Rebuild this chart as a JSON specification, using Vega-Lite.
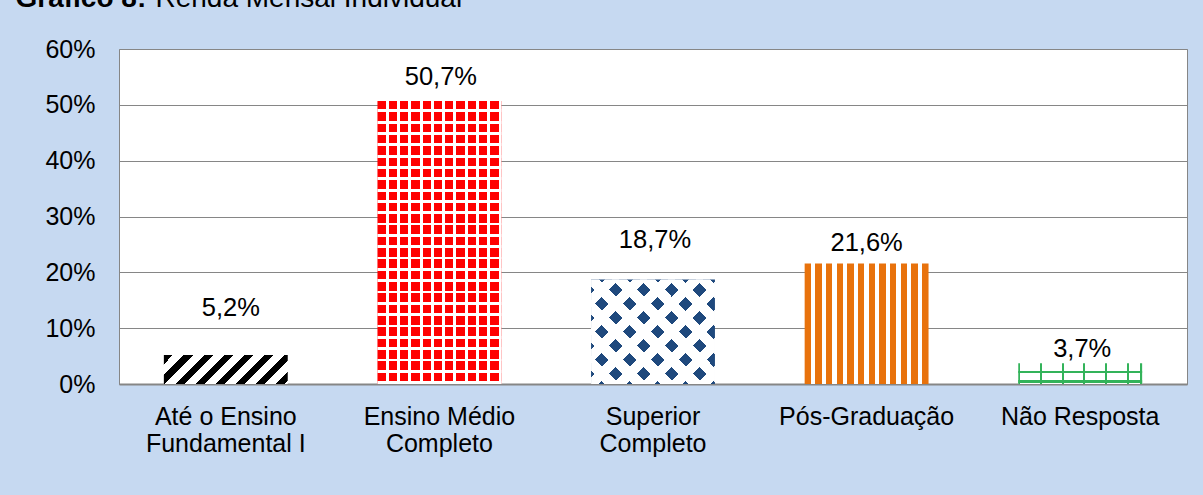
{
  "$schema": "https://vega.github.io/schema/vega-lite/v6.json",
  "width": 1068,
  "height": 335,
  "autosize": {"type": "none"},
  "padding": {"left": 119, "top": 49, "right": 16, "bottom": 111},
  "background": "#c6d9f1",
  "config": {
    "locale": {"number": {"decimal": ",", "thousands": ".", "grouping": [3], "currency": ["R$", ""]}},
    "view": {"fill": "#ffffff", "stroke": "#868686", "strokeWidth": 1},
    "font": "Liberation Sans"
  },
  "data": {
    "values": [
      {"escolaridade": "Até o Ensino Fundamental I", "pct": 0.052},
      {"escolaridade": "Ensino Médio Completo", "pct": 0.507},
      {"escolaridade": "Superior Completo", "pct": 0.187},
      {"escolaridade": "Pós-Graduação", "pct": 0.216},
      {"escolaridade": "Não Resposta", "pct": 0.037}
    ]
  },
  "encoding": {
    "x": {
      "field": "escolaridade",
      "type": "nominal",
      "sort": null,
      "scale": {
        "domain": ["Até o Ensino Fundamental I", "Ensino Médio Completo", "Superior Completo", "Pós-Graduação", "Não Resposta"],
        "paddingInner": 0.42,
        "paddingOuter": 0.21
      },
      "axis": {
        "title": "Gráfico 8:",
        "titleX": -104,
        "titleY": -377.5,
        "titleAlign": "left",
        "titleBaseline": "alphabetic",
        "titleFontSize": 28,
        "titleFontWeight": "bold",
        "titleColor": "#000000",
        "labelAngle": 0,
        "labelFontSize": 25,
        "labelColor": "#000000",
        "labelPadding": 20,
        "labelLineHeight": 27,
        "labelBaseline": "top",
        "labelLimit": 0,
        "labelExpr": "datum.value == 'Até o Ensino Fundamental I' ? ['Até o Ensino', 'Fundamental I'] : datum.value == 'Ensino Médio Completo' ? ['Ensino Médio', 'Completo'] : datum.value == 'Superior Completo' ? ['Superior', 'Completo'] : datum.label",
        "ticks": false,
        "tickSize": 0,
        "domain": true,
        "domainColor": "#868686",
        "domainWidth": 2,
        "grid": false
      }
    },
    "y": {
      "field": "pct",
      "type": "quantitative",
      "scale": {"domain": [0, 0.6], "nice": false},
      "axis": {
        "title": "Renda Mensal Individual",
        "titleAngle": 0,
        "titleX": 36,
        "titleY": -42.5,
        "titleAlign": "left",
        "titleBaseline": "alphabetic",
        "titleFontSize": 28,
        "titleFontWeight": "normal",
        "titleColor": "#000000",
        "format": ".0%",
        "values": [0, 0.1, 0.2, 0.3, 0.4, 0.5, 0.6],
        "grid": true,
        "gridColor": "#868686",
        "gridWidth": 1,
        "domain": false,
        "ticks": false,
        "tickSize": 0,
        "labelPadding": 24,
        "labelFontSize": 25,
        "labelColor": "#000000"
      }
    }
  },
  "layer": [
    {
      "transform": [{"filter": "datum.escolaridade == 'Até o Ensino Fundamental I'"}],
      "layer": [
        {
          "mark": {
            "type": "bar",
            "fill": {
              "gradient": "linear", "x1": 0, "y1": 0, "x2": 1.17, "y2": 0.274,
              "stops": [
                {"offset": 0, "color": "#000000"}, {"offset": 0.06, "color": "#000000"}, {"offset": 0.06, "color": "#ffffff"}, {"offset": 0.1316, "color": "#ffffff"},
                {"offset": 0.1316, "color": "#000000"}, {"offset": 0.1916, "color": "#000000"}, {"offset": 0.1916, "color": "#ffffff"}, {"offset": 0.2632, "color": "#ffffff"},
                {"offset": 0.2632, "color": "#000000"}, {"offset": 0.3232, "color": "#000000"}, {"offset": 0.3232, "color": "#ffffff"}, {"offset": 0.3948, "color": "#ffffff"},
                {"offset": 0.3948, "color": "#000000"}, {"offset": 0.4548, "color": "#000000"}, {"offset": 0.4548, "color": "#ffffff"}, {"offset": 0.5264, "color": "#ffffff"},
                {"offset": 0.5264, "color": "#000000"}, {"offset": 0.5864, "color": "#000000"}, {"offset": 0.5864, "color": "#ffffff"}, {"offset": 0.658, "color": "#ffffff"},
                {"offset": 0.658, "color": "#000000"}, {"offset": 0.718, "color": "#000000"}, {"offset": 0.718, "color": "#ffffff"}, {"offset": 0.7896, "color": "#ffffff"},
                {"offset": 0.7896, "color": "#000000"}, {"offset": 0.8496, "color": "#000000"}, {"offset": 0.8496, "color": "#ffffff"}, {"offset": 0.9212, "color": "#ffffff"},
                {"offset": 0.9212, "color": "#000000"}, {"offset": 0.9812, "color": "#000000"}, {"offset": 0.9812, "color": "#ffffff"}, {"offset": 1, "color": "#ffffff"}
              ]
            }
          }
        },
        {
          "mark": {"type": "text", "baseline": "alphabetic", "dy": -39, "dx": 5, "fontSize": 25.5, "fill": "#000000"},
          "encoding": {"text": {"field": "pct", "type": "quantitative", "format": ".1%"}}
        }
      ]
    },
    {
      "transform": [{"filter": "datum.escolaridade == 'Ensino Médio Completo'"}],
      "layer": [
        {"mark": {"type": "bar", "fill": "#ff0000"}},
        {
          "mark": {
            "type": "bar",
            "fill": {
              "gradient": "linear", "x1": 0, "y1": 0, "x2": 1, "y2": 0,
              "stops": [
                {"offset": 0, "color": "rgba(255,255,255,0)"}, {"offset": 0.0682, "color": "rgba(255,255,255,0)"}, {"offset": 0.0682, "color": "#ffffff"}, {"offset": 0.0909, "color": "#ffffff"},
                {"offset": 0.0909, "color": "rgba(255,255,255,0)"}, {"offset": 0.1591, "color": "rgba(255,255,255,0)"}, {"offset": 0.1591, "color": "#ffffff"}, {"offset": 0.1818, "color": "#ffffff"},
                {"offset": 0.1818, "color": "rgba(255,255,255,0)"}, {"offset": 0.25, "color": "rgba(255,255,255,0)"}, {"offset": 0.25, "color": "#ffffff"}, {"offset": 0.2727, "color": "#ffffff"},
                {"offset": 0.2727, "color": "rgba(255,255,255,0)"}, {"offset": 0.3409, "color": "rgba(255,255,255,0)"}, {"offset": 0.3409, "color": "#ffffff"}, {"offset": 0.3636, "color": "#ffffff"},
                {"offset": 0.3636, "color": "rgba(255,255,255,0)"}, {"offset": 0.4318, "color": "rgba(255,255,255,0)"}, {"offset": 0.4318, "color": "#ffffff"}, {"offset": 0.4545, "color": "#ffffff"},
                {"offset": 0.4545, "color": "rgba(255,255,255,0)"}, {"offset": 0.5227, "color": "rgba(255,255,255,0)"}, {"offset": 0.5227, "color": "#ffffff"}, {"offset": 0.5455, "color": "#ffffff"},
                {"offset": 0.5455, "color": "rgba(255,255,255,0)"}, {"offset": 0.6136, "color": "rgba(255,255,255,0)"}, {"offset": 0.6136, "color": "#ffffff"}, {"offset": 0.6364, "color": "#ffffff"},
                {"offset": 0.6364, "color": "rgba(255,255,255,0)"}, {"offset": 0.7045, "color": "rgba(255,255,255,0)"}, {"offset": 0.7045, "color": "#ffffff"}, {"offset": 0.7273, "color": "#ffffff"},
                {"offset": 0.7273, "color": "rgba(255,255,255,0)"}, {"offset": 0.7955, "color": "rgba(255,255,255,0)"}, {"offset": 0.7955, "color": "#ffffff"}, {"offset": 0.8182, "color": "#ffffff"},
                {"offset": 0.8182, "color": "rgba(255,255,255,0)"}, {"offset": 0.8864, "color": "rgba(255,255,255,0)"}, {"offset": 0.8864, "color": "#ffffff"}, {"offset": 0.9091, "color": "#ffffff"},
                {"offset": 0.9091, "color": "rgba(255,255,255,0)"}, {"offset": 0.9773, "color": "rgba(255,255,255,0)"}, {"offset": 0.9773, "color": "#ffffff"}, {"offset": 1, "color": "#ffffff"}
              ]
            }
          }
        },
        {
          "mark": {
            "type": "bar",
            "fill": {
              "gradient": "linear", "x1": 0, "y1": 0, "x2": 0, "y2": 1,
              "stops": [
                {"offset": 0, "color": "rgba(255,255,255,0)"}, {"offset": 0.03, "color": "rgba(255,255,255,0)"}, {"offset": 0.03, "color": "#ffffff"}, {"offset": 0.04, "color": "#ffffff"},
                {"offset": 0.04, "color": "rgba(255,255,255,0)"}, {"offset": 0.07, "color": "rgba(255,255,255,0)"}, {"offset": 0.07, "color": "#ffffff"}, {"offset": 0.08, "color": "#ffffff"},
                {"offset": 0.08, "color": "rgba(255,255,255,0)"}, {"offset": 0.11, "color": "rgba(255,255,255,0)"}, {"offset": 0.11, "color": "#ffffff"}, {"offset": 0.12, "color": "#ffffff"},
                {"offset": 0.12, "color": "rgba(255,255,255,0)"}, {"offset": 0.15, "color": "rgba(255,255,255,0)"}, {"offset": 0.15, "color": "#ffffff"}, {"offset": 0.16, "color": "#ffffff"},
                {"offset": 0.16, "color": "rgba(255,255,255,0)"}, {"offset": 0.19, "color": "rgba(255,255,255,0)"}, {"offset": 0.19, "color": "#ffffff"}, {"offset": 0.2, "color": "#ffffff"},
                {"offset": 0.2, "color": "rgba(255,255,255,0)"}, {"offset": 0.23, "color": "rgba(255,255,255,0)"}, {"offset": 0.23, "color": "#ffffff"}, {"offset": 0.24, "color": "#ffffff"},
                {"offset": 0.24, "color": "rgba(255,255,255,0)"}, {"offset": 0.27, "color": "rgba(255,255,255,0)"}, {"offset": 0.27, "color": "#ffffff"}, {"offset": 0.28, "color": "#ffffff"},
                {"offset": 0.28, "color": "rgba(255,255,255,0)"}, {"offset": 0.31, "color": "rgba(255,255,255,0)"}, {"offset": 0.31, "color": "#ffffff"}, {"offset": 0.32, "color": "#ffffff"},
                {"offset": 0.32, "color": "rgba(255,255,255,0)"}, {"offset": 0.35, "color": "rgba(255,255,255,0)"}, {"offset": 0.35, "color": "#ffffff"}, {"offset": 0.36, "color": "#ffffff"},
                {"offset": 0.36, "color": "rgba(255,255,255,0)"}, {"offset": 0.39, "color": "rgba(255,255,255,0)"}, {"offset": 0.39, "color": "#ffffff"}, {"offset": 0.4, "color": "#ffffff"},
                {"offset": 0.4, "color": "rgba(255,255,255,0)"}, {"offset": 0.43, "color": "rgba(255,255,255,0)"}, {"offset": 0.43, "color": "#ffffff"}, {"offset": 0.44, "color": "#ffffff"},
                {"offset": 0.44, "color": "rgba(255,255,255,0)"}, {"offset": 0.47, "color": "rgba(255,255,255,0)"}, {"offset": 0.47, "color": "#ffffff"}, {"offset": 0.48, "color": "#ffffff"},
                {"offset": 0.48, "color": "rgba(255,255,255,0)"}, {"offset": 0.51, "color": "rgba(255,255,255,0)"}, {"offset": 0.51, "color": "#ffffff"}, {"offset": 0.52, "color": "#ffffff"},
                {"offset": 0.52, "color": "rgba(255,255,255,0)"}, {"offset": 0.55, "color": "rgba(255,255,255,0)"}, {"offset": 0.55, "color": "#ffffff"}, {"offset": 0.56, "color": "#ffffff"},
                {"offset": 0.56, "color": "rgba(255,255,255,0)"}, {"offset": 0.59, "color": "rgba(255,255,255,0)"}, {"offset": 0.59, "color": "#ffffff"}, {"offset": 0.6, "color": "#ffffff"},
                {"offset": 0.6, "color": "rgba(255,255,255,0)"}, {"offset": 0.63, "color": "rgba(255,255,255,0)"}, {"offset": 0.63, "color": "#ffffff"}, {"offset": 0.64, "color": "#ffffff"},
                {"offset": 0.64, "color": "rgba(255,255,255,0)"}, {"offset": 0.67, "color": "rgba(255,255,255,0)"}, {"offset": 0.67, "color": "#ffffff"}, {"offset": 0.68, "color": "#ffffff"},
                {"offset": 0.68, "color": "rgba(255,255,255,0)"}, {"offset": 0.71, "color": "rgba(255,255,255,0)"}, {"offset": 0.71, "color": "#ffffff"}, {"offset": 0.72, "color": "#ffffff"},
                {"offset": 0.72, "color": "rgba(255,255,255,0)"}, {"offset": 0.75, "color": "rgba(255,255,255,0)"}, {"offset": 0.75, "color": "#ffffff"}, {"offset": 0.76, "color": "#ffffff"},
                {"offset": 0.76, "color": "rgba(255,255,255,0)"}, {"offset": 0.79, "color": "rgba(255,255,255,0)"}, {"offset": 0.79, "color": "#ffffff"}, {"offset": 0.8, "color": "#ffffff"},
                {"offset": 0.8, "color": "rgba(255,255,255,0)"}, {"offset": 0.83, "color": "rgba(255,255,255,0)"}, {"offset": 0.83, "color": "#ffffff"}, {"offset": 0.84, "color": "#ffffff"},
                {"offset": 0.84, "color": "rgba(255,255,255,0)"}, {"offset": 0.87, "color": "rgba(255,255,255,0)"}, {"offset": 0.87, "color": "#ffffff"}, {"offset": 0.88, "color": "#ffffff"},
                {"offset": 0.88, "color": "rgba(255,255,255,0)"}, {"offset": 0.91, "color": "rgba(255,255,255,0)"}, {"offset": 0.91, "color": "#ffffff"}, {"offset": 0.92, "color": "#ffffff"},
                {"offset": 0.92, "color": "rgba(255,255,255,0)"}, {"offset": 0.95, "color": "rgba(255,255,255,0)"}, {"offset": 0.95, "color": "#ffffff"}, {"offset": 0.96, "color": "#ffffff"},
                {"offset": 0.96, "color": "rgba(255,255,255,0)"}, {"offset": 0.99, "color": "rgba(255,255,255,0)"}, {"offset": 0.99, "color": "#ffffff"}, {"offset": 1, "color": "#ffffff"}
              ]
            }
          }
        },
        {
          "mark": {"type": "text", "baseline": "alphabetic", "dy": -16, "dx": 1.5, "fontSize": 25.5, "fill": "#000000"},
          "encoding": {"text": {"field": "pct", "type": "quantitative", "format": ".1%"}}
        }
      ]
    },
    {
      "transform": [{"filter": "datum.escolaridade == 'Superior Completo'"}],
      "layer": [
        {"mark": {"type": "bar", "fill": "#1f497d"}},
        {
          "mark": {
            "type": "bar",
            "fill": {
              "gradient": "linear", "x1": 0, "y1": 0, "x2": 1.0776, "y2": 0.908,
              "stops": [
                {"offset": 0, "color": "rgba(255,255,255,0)"}, {"offset": 0.0588, "color": "rgba(255,255,255,0)"}, {"offset": 0.0588, "color": "#ffffff"}, {"offset": 0.1226, "color": "#ffffff"},
                {"offset": 0.1226, "color": "rgba(255,255,255,0)"}, {"offset": 0.1814, "color": "rgba(255,255,255,0)"}, {"offset": 0.1814, "color": "#ffffff"}, {"offset": 0.2452, "color": "#ffffff"},
                {"offset": 0.2452, "color": "rgba(255,255,255,0)"}, {"offset": 0.304, "color": "rgba(255,255,255,0)"}, {"offset": 0.304, "color": "#ffffff"}, {"offset": 0.3678, "color": "#ffffff"},
                {"offset": 0.3678, "color": "rgba(255,255,255,0)"}, {"offset": 0.4266, "color": "rgba(255,255,255,0)"}, {"offset": 0.4266, "color": "#ffffff"}, {"offset": 0.4904, "color": "#ffffff"},
                {"offset": 0.4904, "color": "rgba(255,255,255,0)"}, {"offset": 0.5492, "color": "rgba(255,255,255,0)"}, {"offset": 0.5492, "color": "#ffffff"}, {"offset": 0.613, "color": "#ffffff"},
                {"offset": 0.613, "color": "rgba(255,255,255,0)"}, {"offset": 0.6718, "color": "rgba(255,255,255,0)"}, {"offset": 0.6718, "color": "#ffffff"}, {"offset": 0.7356, "color": "#ffffff"},
                {"offset": 0.7356, "color": "rgba(255,255,255,0)"}, {"offset": 0.7944, "color": "rgba(255,255,255,0)"}, {"offset": 0.7944, "color": "#ffffff"}, {"offset": 0.8582, "color": "#ffffff"},
                {"offset": 0.8582, "color": "rgba(255,255,255,0)"}, {"offset": 0.917, "color": "rgba(255,255,255,0)"}, {"offset": 0.917, "color": "#ffffff"}, {"offset": 0.9808, "color": "#ffffff"},
                {"offset": 0.9808, "color": "rgba(255,255,255,0)"}, {"offset": 1, "color": "rgba(255,255,255,0)"}
              ]
            }
          }
        },
        {
          "mark": {
            "type": "bar",
            "fill": {
              "gradient": "linear", "x1": 0, "y1": 1, "x2": 1.0776, "y2": 0.092,
              "stops": [
                {"offset": 0, "color": "rgba(255,255,255,0)"}, {"offset": 0.0588, "color": "rgba(255,255,255,0)"}, {"offset": 0.0588, "color": "#ffffff"}, {"offset": 0.1226, "color": "#ffffff"},
                {"offset": 0.1226, "color": "rgba(255,255,255,0)"}, {"offset": 0.1814, "color": "rgba(255,255,255,0)"}, {"offset": 0.1814, "color": "#ffffff"}, {"offset": 0.2452, "color": "#ffffff"},
                {"offset": 0.2452, "color": "rgba(255,255,255,0)"}, {"offset": 0.304, "color": "rgba(255,255,255,0)"}, {"offset": 0.304, "color": "#ffffff"}, {"offset": 0.3678, "color": "#ffffff"},
                {"offset": 0.3678, "color": "rgba(255,255,255,0)"}, {"offset": 0.4266, "color": "rgba(255,255,255,0)"}, {"offset": 0.4266, "color": "#ffffff"}, {"offset": 0.4904, "color": "#ffffff"},
                {"offset": 0.4904, "color": "rgba(255,255,255,0)"}, {"offset": 0.5492, "color": "rgba(255,255,255,0)"}, {"offset": 0.5492, "color": "#ffffff"}, {"offset": 0.613, "color": "#ffffff"},
                {"offset": 0.613, "color": "rgba(255,255,255,0)"}, {"offset": 0.6718, "color": "rgba(255,255,255,0)"}, {"offset": 0.6718, "color": "#ffffff"}, {"offset": 0.7356, "color": "#ffffff"},
                {"offset": 0.7356, "color": "rgba(255,255,255,0)"}, {"offset": 0.7944, "color": "rgba(255,255,255,0)"}, {"offset": 0.7944, "color": "#ffffff"}, {"offset": 0.8582, "color": "#ffffff"},
                {"offset": 0.8582, "color": "rgba(255,255,255,0)"}, {"offset": 0.917, "color": "rgba(255,255,255,0)"}, {"offset": 0.917, "color": "#ffffff"}, {"offset": 0.9808, "color": "#ffffff"},
                {"offset": 0.9808, "color": "rgba(255,255,255,0)"}, {"offset": 1, "color": "rgba(255,255,255,0)"}
              ]
            }
          }
        },
        {
          "mark": {"type": "text", "baseline": "alphabetic", "dy": -32, "dx": 2, "fontSize": 25.5, "fill": "#000000"},
          "encoding": {"text": {"field": "pct", "type": "quantitative", "format": ".1%"}}
        }
      ]
    },
    {
      "transform": [{"filter": "datum.escolaridade == 'Pós-Graduação'"}],
      "layer": [
        {
          "mark": {
            "type": "bar",
            "fill": {
              "gradient": "linear", "x1": 0, "y1": 0, "x2": 1, "y2": 0,
              "stops": [
                {"offset": 0, "color": "#e8720c"}, {"offset": 0.05, "color": "#e8720c"}, {"offset": 0.05, "color": "#ffffff"}, {"offset": 0.0862, "color": "#ffffff"},
                {"offset": 0.0862, "color": "#e8720c"}, {"offset": 0.1362, "color": "#e8720c"}, {"offset": 0.1362, "color": "#ffffff"}, {"offset": 0.1724, "color": "#ffffff"},
                {"offset": 0.1724, "color": "#e8720c"}, {"offset": 0.2224, "color": "#e8720c"}, {"offset": 0.2224, "color": "#ffffff"}, {"offset": 0.2586, "color": "#ffffff"},
                {"offset": 0.2586, "color": "#e8720c"}, {"offset": 0.3086, "color": "#e8720c"}, {"offset": 0.3086, "color": "#ffffff"}, {"offset": 0.3448, "color": "#ffffff"},
                {"offset": 0.3448, "color": "#e8720c"}, {"offset": 0.3948, "color": "#e8720c"}, {"offset": 0.3948, "color": "#ffffff"}, {"offset": 0.431, "color": "#ffffff"},
                {"offset": 0.431, "color": "#e8720c"}, {"offset": 0.481, "color": "#e8720c"}, {"offset": 0.481, "color": "#ffffff"}, {"offset": 0.5172, "color": "#ffffff"},
                {"offset": 0.5172, "color": "#e8720c"}, {"offset": 0.5672, "color": "#e8720c"}, {"offset": 0.5672, "color": "#ffffff"}, {"offset": 0.6034, "color": "#ffffff"},
                {"offset": 0.6034, "color": "#e8720c"}, {"offset": 0.6534, "color": "#e8720c"}, {"offset": 0.6534, "color": "#ffffff"}, {"offset": 0.6896, "color": "#ffffff"},
                {"offset": 0.6896, "color": "#e8720c"}, {"offset": 0.7396, "color": "#e8720c"}, {"offset": 0.7396, "color": "#ffffff"}, {"offset": 0.7758, "color": "#ffffff"},
                {"offset": 0.7758, "color": "#e8720c"}, {"offset": 0.8258, "color": "#e8720c"}, {"offset": 0.8258, "color": "#ffffff"}, {"offset": 0.862, "color": "#ffffff"},
                {"offset": 0.862, "color": "#e8720c"}, {"offset": 0.912, "color": "#e8720c"}, {"offset": 0.912, "color": "#ffffff"}, {"offset": 0.9482, "color": "#ffffff"},
                {"offset": 0.9482, "color": "#e8720c"}, {"offset": 1, "color": "#e8720c"}
              ]
            }
          }
        },
        {
          "mark": {"type": "text", "baseline": "alphabetic", "dy": -12, "dx": 0, "fontSize": 25.5, "fill": "#000000"},
          "encoding": {"text": {"field": "pct", "type": "quantitative", "format": ".1%"}}
        }
      ]
    },
    {
      "transform": [{"filter": "datum.escolaridade == 'Não Resposta'"}],
      "layer": [
        {
          "mark": {
            "type": "bar",
            "fill": {
              "gradient": "linear", "x1": 0, "y1": 0, "x2": 0, "y2": 1,
              "stops": [
                {"offset": 0, "color": "#ffffff"}, {"offset": 0.36, "color": "#ffffff"}, {"offset": 0.36, "color": "#33b35a"}, {"offset": 0.47, "color": "#33b35a"},
                {"offset": 0.47, "color": "#ffffff"}, {"offset": 0.82, "color": "#ffffff"}, {"offset": 0.82, "color": "#33b35a"}, {"offset": 0.94, "color": "#33b35a"},
                {"offset": 0.94, "color": "#ffffff"}, {"offset": 1, "color": "#ffffff"}
              ]
            }
          }
        },
        {
          "mark": {
            "type": "bar",
            "fill": {
              "gradient": "linear", "x1": 0, "y1": 0, "x2": 1, "y2": 0,
              "stops": [
                {"offset": 0, "color": "#33b35a"}, {"offset": 0.016, "color": "#33b35a"}, {"offset": 0.016, "color": "rgba(255,255,255,0)"}, {"offset": 0.175, "color": "rgba(255,255,255,0)"},
                {"offset": 0.175, "color": "#33b35a"}, {"offset": 0.191, "color": "#33b35a"}, {"offset": 0.191, "color": "rgba(255,255,255,0)"}, {"offset": 0.35, "color": "rgba(255,255,255,0)"},
                {"offset": 0.35, "color": "#33b35a"}, {"offset": 0.366, "color": "#33b35a"}, {"offset": 0.366, "color": "rgba(255,255,255,0)"}, {"offset": 0.525, "color": "rgba(255,255,255,0)"},
                {"offset": 0.525, "color": "#33b35a"}, {"offset": 0.541, "color": "#33b35a"}, {"offset": 0.541, "color": "rgba(255,255,255,0)"}, {"offset": 0.7, "color": "rgba(255,255,255,0)"},
                {"offset": 0.7, "color": "#33b35a"}, {"offset": 0.716, "color": "#33b35a"}, {"offset": 0.716, "color": "rgba(255,255,255,0)"}, {"offset": 0.875, "color": "rgba(255,255,255,0)"},
                {"offset": 0.875, "color": "#33b35a"}, {"offset": 0.891, "color": "#33b35a"}, {"offset": 0.891, "color": "rgba(255,255,255,0)"}, {"offset": 0.984, "color": "rgba(255,255,255,0)"},
                {"offset": 0.984, "color": "#33b35a"}, {"offset": 1, "color": "#33b35a"}
              ]
            }
          }
        },
        {
          "mark": {"type": "text", "baseline": "alphabetic", "dy": -6, "dx": 2, "fontSize": 25.5, "fill": "#000000"},
          "encoding": {"text": {"field": "pct", "type": "quantitative", "format": ".1%"}}
        }
      ]
    }
  ]
}
